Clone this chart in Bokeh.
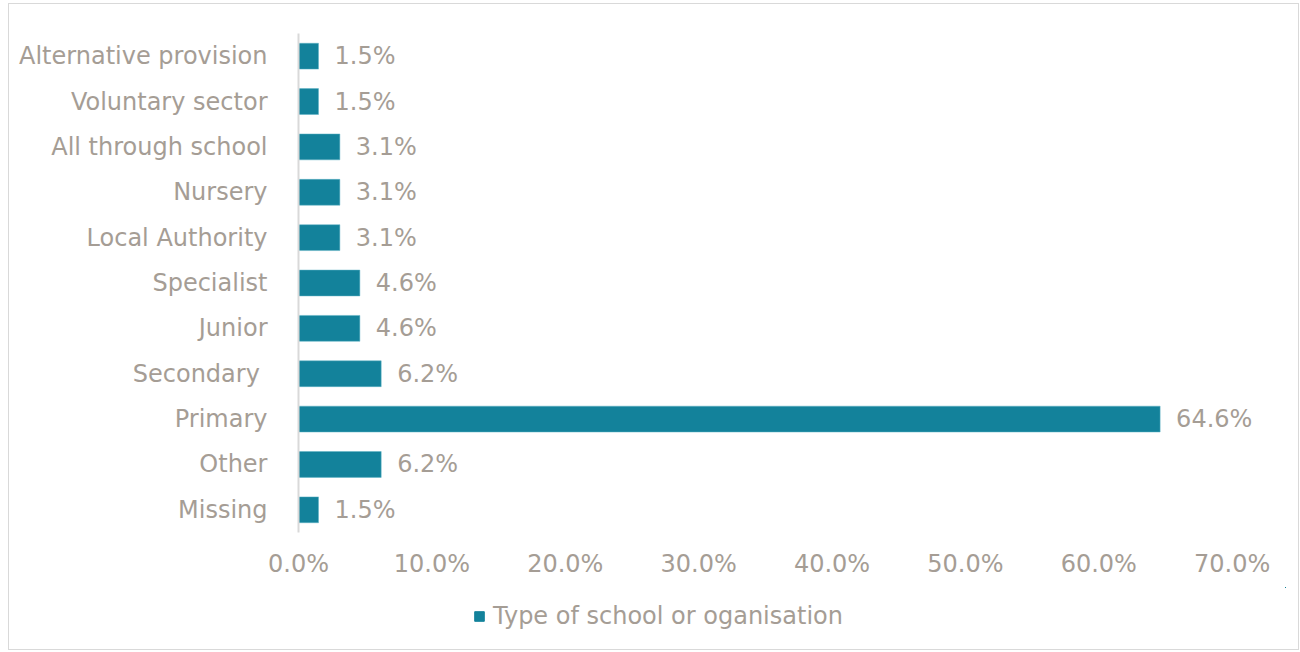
from bokeh.plotting import figure
from bokeh.layouts import column
from bokeh.models import ColumnDataSource, FactorRange, Legend, LegendItem, FixedTicker, CustomJSTickFormatter
from bokeh.core.properties import value
from bokeh.embed import file_html
from bokeh.resources import INLINE

categories = ["Alternative provision", "Voluntary sector", "All through school", "Nursery",
              "Local Authority", "Specialist", "Junior", "Secondary ", "Primary", "Other", "Missing"]
values = [1.5, 1.5, 3.1, 3.1, 3.1, 4.6, 4.6, 6.2, 64.6, 6.2, 1.5]
labels = ["1.5%", "1.5%", "3.1%", "3.1%", "3.1%", "4.6%", "4.6%", "6.2%", "64.6%", "6.2%", "1.5%"]
ticks = [0, 10, 20, 30, 40, 50, 60, 70]
series_name = "Type of school or oganisation"

BAR = "#13829B"
GRAY = "#A59D95"
FONT = "DejaVu Sans"
FS = "24px"

src = ColumnDataSource(dict(cat=categories, val=values, lab=labels))

p = figure(width=1289, height=583, output_backend="svg", toolbar_location=None,
           y_range=FactorRange(factors=categories[::-1]), x_range=(0, 74),
           min_border_left=289, min_border_right=13, min_border_top=29, min_border_bottom=55)
p.outline_line_color = None
p.xgrid.grid_line_color = None
p.ygrid.grid_line_color = None

r = p.hbar(y="cat", right="val", left=0, height=0.57, source=src, color=BAR,
           line_color="#5FB3C4", line_width=0.5)
p.text(x="val", y="cat", text="lab", source=src, x_offset=16, text_baseline="middle",
       text_align="left", text_font=value(FONT), text_font_size=FS, text_color=GRAY)

p.yaxis.axis_line_color = "#D9D9D9"
p.yaxis.axis_line_width = 2
p.yaxis.major_tick_line_color = None
p.yaxis.minor_tick_line_color = None
p.yaxis.major_label_text_font = FONT
p.yaxis.major_label_text_font_size = FS
p.yaxis.major_label_text_color = GRAY
p.yaxis.major_label_standoff = 25

p.xaxis.axis_line_color = None
p.xaxis.major_tick_line_color = None
p.xaxis.minor_tick_line_color = None
p.xaxis.major_tick_out = 0
p.xaxis.major_tick_in = 0
p.xaxis.ticker = FixedTicker(ticks=ticks)
p.xaxis.formatter = CustomJSTickFormatter(code="return tick.toFixed(1) + '%';")
p.xaxis.major_label_text_font = FONT
p.xaxis.major_label_text_font_size = FS
p.xaxis.major_label_text_color = GRAY
p.xaxis.major_label_standoff = 17

# legend strip below the chart (its series is drawn outside the strip's visible ranges)
pl = figure(width=1289, height=62, output_backend="svg", toolbar_location=None,
            x_range=(-2, -1), y_range=(-2, -1), x_axis_location=None, y_axis_location=None,
            min_border=0)
pl.outline_line_color = None
pl.xgrid.grid_line_color = None
pl.ygrid.grid_line_color = None
rl = pl.hbar(y="val", right="val", left=0, height=0.5, source=src, color=BAR)
legend = Legend(items=[LegendItem(label=series_name, renderers=[rl])],
                location=(175, 19), orientation="horizontal", border_line_color=None,
                background_fill_alpha=0, label_text_font=FONT, label_text_font_size=FS,
                label_text_color=GRAY, glyph_width=12, glyph_height=12, padding=0, margin=0,
                label_standoff=8)
pl.add_layout(legend, "center")

layout = column(p, pl, spacing=0,
                styles={"border": "1px solid #D9D9D9", "margin-left": "8px", "margin-top": "3px"})

open("out.html", "w").write(file_html(layout, INLINE))
